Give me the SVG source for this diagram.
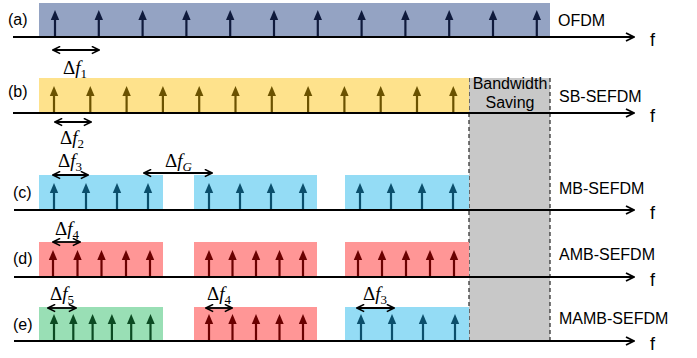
<svg xmlns="http://www.w3.org/2000/svg" xmlns:xlink="http://www.w3.org/1999/xlink" width="697" height="358" viewBox="0 0 697 358">
<style>
.lbl{font-family:"Liberation Sans",Arial,sans-serif;font-size:16px;fill:#000}
.f{font-family:"Liberation Sans",Arial,sans-serif;font-size:18px;fill:#000}
.d{font-family:"Liberation Serif","Times New Roman",serif;font-size:19px;fill:#000}
.d tspan.i{font-style:italic}
.ax{stroke:#000;stroke-width:2;fill:none}
.dbl{stroke:#000;stroke-width:1.8;fill:none}
.gap{stroke:#333;stroke-width:1.3;stroke-dasharray:4,3;fill:none}
</style>
<defs>
<g id="ar"><line x1="0" y1="0" x2="0" y2="-19" stroke="currentColor" stroke-width="2.2"/><path d="M-4.2,-17 L0,-27 L4.2,-17Z" fill="currentColor"/></g>
<marker id="ah" viewBox="0 0 10 10" refX="9" refY="5" markerWidth="10" markerHeight="10" markerUnits="userSpaceOnUse" orient="auto-start-reverse"><path d="M1,1 L9,5 L1,9" fill="none" stroke="#000" stroke-width="1.8"/></marker>
<marker id="dh" viewBox="0 0 10 10" refX="9" refY="5" markerWidth="9" markerHeight="9" markerUnits="userSpaceOnUse" orient="auto-start-reverse"><path d="M1,1 L9,5 L1,9" fill="none" stroke="#000" stroke-width="1.8"/></marker>
</defs>
<rect width="697" height="358" fill="#fff"/>

<g id="bandwidth-saving">
<rect x="469" y="78" width="81" height="264" fill="#c8c8c8"/>
<line class="gap" x1="469" y1="78" x2="469" y2="342"/>
<line class="gap" x1="550" y1="78" x2="550" y2="342"/>
<text class="lbl" x="510" y="89" text-anchor="middle">Bandwidth</text>
<text class="lbl" x="510" y="108" text-anchor="middle">Saving</text>
</g>

<g id="row-a">
<rect x="39" y="3" width="511" height="34" fill="#94a3c3"/>
<g color="#0f1a3c">
<use xlink:href="#ar" x="55" y="37"/><use xlink:href="#ar" x="98.8" y="37"/><use xlink:href="#ar" x="142.6" y="37"/><use xlink:href="#ar" x="186.4" y="37"/><use xlink:href="#ar" x="230.2" y="37"/><use xlink:href="#ar" x="274" y="37"/><use xlink:href="#ar" x="317.8" y="37"/><use xlink:href="#ar" x="361.6" y="37"/><use xlink:href="#ar" x="405.4" y="37"/><use xlink:href="#ar" x="449.2" y="37"/><use xlink:href="#ar" x="493" y="37"/><use xlink:href="#ar" x="536.8" y="37"/>
</g>
<text class="lbl" x="8" y="25">(a)</text>
<text class="lbl" x="558" y="26">OFDM</text>
</g>

<g id="row-b">
<rect x="39" y="78" width="430" height="35" fill="#fee28c"/>
<g color="#6b5200">
<use xlink:href="#ar" x="54" y="113"/><use xlink:href="#ar" x="90.3" y="113"/><use xlink:href="#ar" x="126.6" y="113"/><use xlink:href="#ar" x="162.9" y="113"/><use xlink:href="#ar" x="199.2" y="113"/><use xlink:href="#ar" x="235.5" y="113"/><use xlink:href="#ar" x="271.8" y="113"/><use xlink:href="#ar" x="308.1" y="113"/><use xlink:href="#ar" x="344.4" y="113"/><use xlink:href="#ar" x="380.7" y="113"/><use xlink:href="#ar" x="417" y="113"/><use xlink:href="#ar" x="453.3" y="113"/>
</g>
<text class="lbl" x="8" y="97">(b)</text>
<text class="lbl" x="559" y="102">SB-SEFDM</text>
</g>

<g id="row-c">
<rect x="39" y="175" width="124" height="35" fill="#94dcf5"/>
<rect x="194" y="175" width="123" height="35" fill="#94dcf5"/>
<rect x="345" y="175" width="124" height="35" fill="#94dcf5"/>
<g color="#0b4f6c">
<use xlink:href="#ar" x="54" y="210"/><use xlink:href="#ar" x="86" y="210"/><use xlink:href="#ar" x="117" y="210"/><use xlink:href="#ar" x="148" y="210"/>
<use xlink:href="#ar" x="209" y="210"/><use xlink:href="#ar" x="240" y="210"/><use xlink:href="#ar" x="271" y="210"/><use xlink:href="#ar" x="303" y="210"/>
<use xlink:href="#ar" x="360" y="210"/><use xlink:href="#ar" x="391" y="210"/><use xlink:href="#ar" x="422" y="210"/><use xlink:href="#ar" x="453" y="210"/>
</g>
<text class="lbl" x="13" y="198">(c)</text>
<text class="lbl" x="559" y="194">MB-SEFDM</text>
</g>

<g id="row-d">
<rect x="39" y="242" width="124" height="35" fill="#ff9696"/>
<rect x="194" y="242" width="123" height="35" fill="#ff9696"/>
<rect x="345" y="242" width="124" height="35" fill="#ff9696"/>
<g color="#6b0000">
<use xlink:href="#ar" x="53" y="277"/><use xlink:href="#ar" x="77.5" y="277"/><use xlink:href="#ar" x="101.5" y="277"/><use xlink:href="#ar" x="126" y="277"/><use xlink:href="#ar" x="150" y="277"/>
<use xlink:href="#ar" x="209" y="277"/><use xlink:href="#ar" x="232.5" y="277"/><use xlink:href="#ar" x="256" y="277"/><use xlink:href="#ar" x="279.5" y="277"/><use xlink:href="#ar" x="303" y="277"/>
<use xlink:href="#ar" x="358" y="277"/><use xlink:href="#ar" x="382" y="277"/><use xlink:href="#ar" x="406" y="277"/><use xlink:href="#ar" x="430" y="277"/><use xlink:href="#ar" x="454" y="277"/>
</g>
<text class="lbl" x="13" y="264">(d)</text>
<text class="lbl" x="559" y="260">AMB-SEFDM</text>
</g>

<g id="row-e">
<rect x="39" y="307" width="124" height="34" fill="#99dfb5"/>
<rect x="194" y="307" width="123" height="34" fill="#ff9696"/>
<rect x="345" y="307" width="124" height="34" fill="#94dcf5"/>
<g color="#0b4a22">
<use xlink:href="#ar" x="54" y="341"/><use xlink:href="#ar" x="73.3" y="341"/><use xlink:href="#ar" x="92.6" y="341"/><use xlink:href="#ar" x="111.9" y="341"/><use xlink:href="#ar" x="131.2" y="341"/><use xlink:href="#ar" x="150.5" y="341"/>
</g>
<g color="#6b0000">
<use xlink:href="#ar" x="209" y="341"/><use xlink:href="#ar" x="232.5" y="341"/><use xlink:href="#ar" x="256" y="341"/><use xlink:href="#ar" x="279.5" y="341"/><use xlink:href="#ar" x="303" y="341"/>
</g>
<g color="#0b4f6c">
<use xlink:href="#ar" x="361" y="341"/><use xlink:href="#ar" x="392" y="341"/><use xlink:href="#ar" x="423" y="341"/><use xlink:href="#ar" x="455" y="341"/>
</g>
<text class="lbl" x="13" y="330">(e)</text>
<text class="lbl" x="559" y="324">MAMB-SEFDM</text>
</g>

<g id="connectors">
<line class="ax" x1="13" y1="37" x2="634" y2="37" marker-end="url(#ah)"/>
<line class="ax" x1="13" y1="113" x2="634" y2="113" marker-end="url(#ah)"/>
<line class="ax" x1="14" y1="210" x2="634" y2="210" marker-end="url(#ah)"/>
<line class="ax" x1="14" y1="277" x2="634" y2="277" marker-end="url(#ah)"/>
<line class="ax" x1="14" y1="341" x2="634" y2="341" marker-end="url(#ah)"/>
<line class="dbl" x1="53" y1="50" x2="99" y2="50" marker-start="url(#dh)" marker-end="url(#dh)"/>
<line class="dbl" x1="55" y1="122" x2="91" y2="122" marker-start="url(#dh)" marker-end="url(#dh)"/>
<line class="dbl" x1="53" y1="175" x2="88" y2="175" marker-start="url(#dh)" marker-end="url(#dh)"/>
<line class="dbl" x1="144" y1="173" x2="212" y2="173" marker-start="url(#dh)" marker-end="url(#dh)"/>
<line class="dbl" x1="53" y1="242" x2="80" y2="242" marker-start="url(#dh)" marker-end="url(#dh)"/>
<line class="dbl" x1="48" y1="308" x2="76" y2="308" marker-start="url(#dh)" marker-end="url(#dh)"/>
<line class="dbl" x1="206" y1="308" x2="232" y2="308" marker-start="url(#dh)" marker-end="url(#dh)"/>
<line class="dbl" x1="357" y1="308" x2="394" y2="308" marker-start="url(#dh)" marker-end="url(#dh)"/>
</g>

<g id="labels">
<text class="f" x="650" y="46">f</text>
<text class="f" x="650" y="122">f</text>
<text class="f" x="650" y="219">f</text>
<text class="f" x="650" y="286">f</text>
<text class="f" x="650" y="350">f</text>
<text class="d" x="63" y="74">Δ<tspan class="i">f</tspan><tspan font-size="13" dy="4">1</tspan></text>
<text class="d" x="60" y="144">Δ<tspan class="i">f</tspan><tspan font-size="13" dy="4">2</tspan></text>
<text class="d" x="58" y="167">Δ<tspan class="i">f</tspan><tspan font-size="13" dy="4">3</tspan></text>
<text class="d" x="165" y="167">Δ<tspan class="i">f</tspan><tspan font-size="13" font-style="italic" dy="4">G</tspan></text>
<text class="d" x="55" y="235">Δ<tspan class="i">f</tspan><tspan font-size="13" dy="4">4</tspan></text>
<text class="d" x="50" y="300">Δ<tspan class="i">f</tspan><tspan font-size="13" dy="4">5</tspan></text>
<text class="d" x="207" y="300">Δ<tspan class="i">f</tspan><tspan font-size="13" dy="4">4</tspan></text>
<text class="d" x="363" y="300">Δ<tspan class="i">f</tspan><tspan font-size="13" dy="4">3</tspan></text>
</g>
</svg>
